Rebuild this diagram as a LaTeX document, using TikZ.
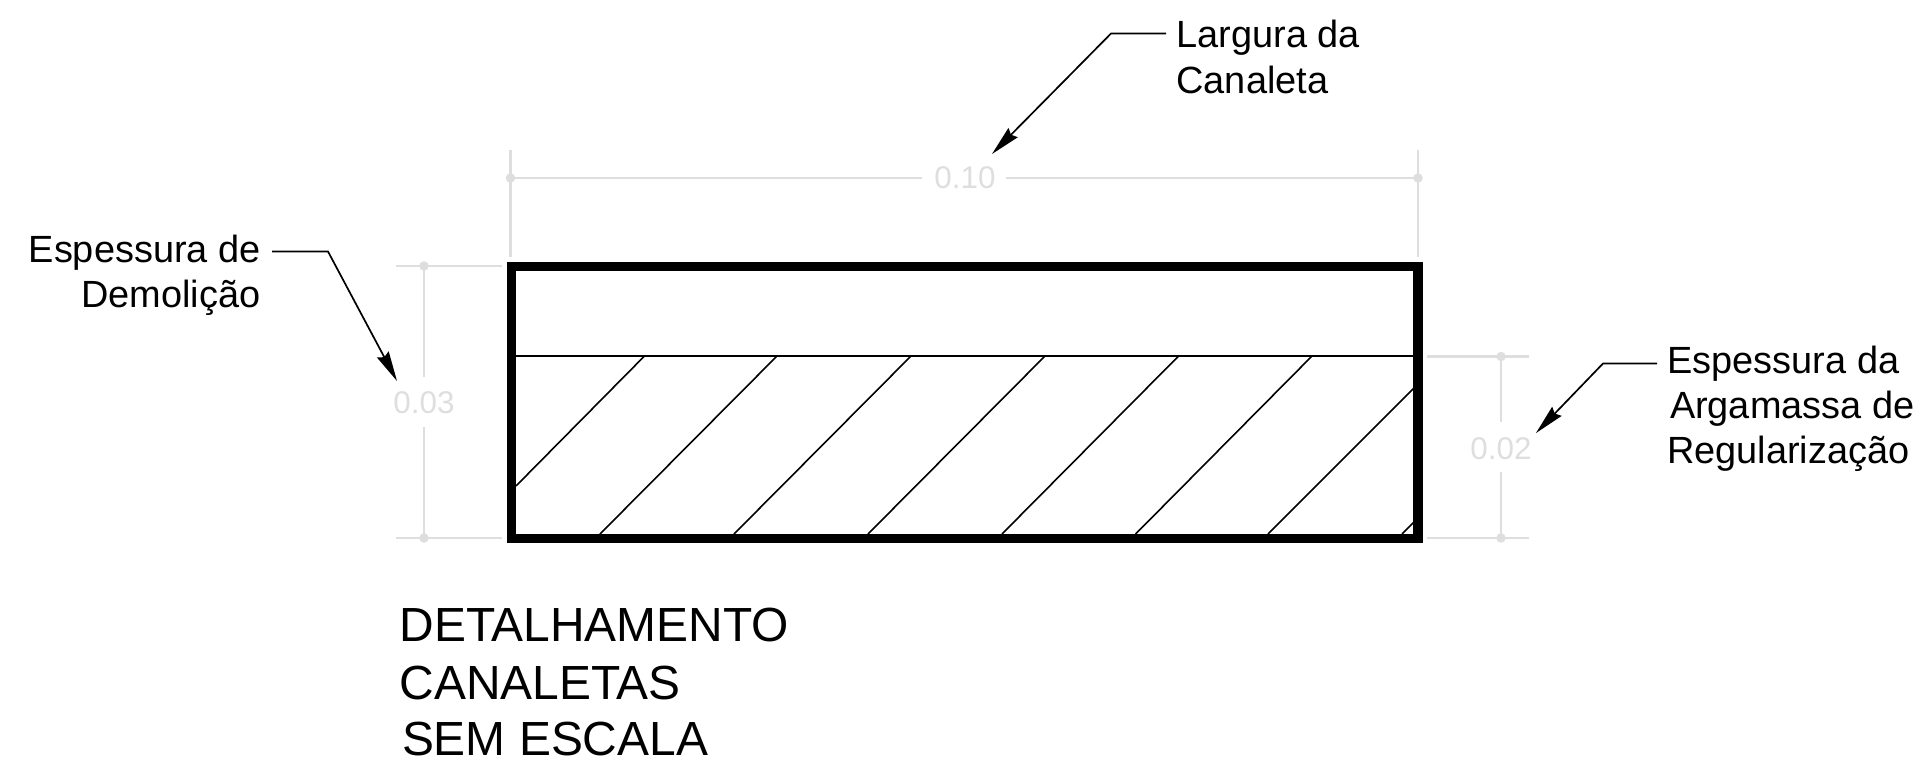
\documentclass[tikz,border=0pt]{standalone}
\usepackage{fontspec}
\setmainfont{Liberation Sans}
\usetikzlibrary{arrows.meta}
\definecolor{dimgray}{HTML}{DEDEDE}
\tikzset{
  lbl/.style={inner sep=0pt,outer sep=0pt,text=black,font=\fontsize{37.9}{46}\selectfont},
  ttl/.style={inner sep=0pt,outer sep=0pt,text=black,font=\fontsize{47.9}{58}\selectfont},
  dimtxt/.style={inner sep=0pt,outer sep=0pt,text=dimgray,font=\fontsize{31.4}{36}\selectfont},
  dimln/.style={draw=dimgray,line width=2.2pt},
  dimdot/.style={circle,fill=dimgray,draw=none,minimum size=9.5pt,inner sep=0pt,outer sep=0pt},
  thin line/.style={draw=black,line width=1.6pt},
  frame/.style={draw=black,line width=9.6pt,miter limit=10},
  leader/.style={draw=black,line width=1.7pt,-{Stealth[length=30pt,width=13pt,inset=3pt]}},
}
\begin{document}
\begin{tikzpicture}[x=1pt,y=-1pt]
\useasboundingbox (0,0) rectangle (1925,766);
% hatch
\draw[thin line] (516,356) -- (1414,356);
\foreach \xa/\ya/\xb/\yb in {644.5/356/516/486, 777/356/600/534, 911/356/734/534, 1045/356/868/534, 1178.6/356/1002/534, 1312/356/1135.6/534, 1414/388/1268/534, 1414/522/1402/534}
  \draw[thin line] (\xa,\ya) -- (\xb,\yb);
\draw[frame] (511.5,266.5) rectangle (1418,538.5);
% top dimension
\coordinate (te1a) at (510.5,150); \coordinate (te1b) at (510.5,257);
\coordinate (te2a) at (1418,150);  \coordinate (te2b) at (1418,257);
\node[dimdot] (td1) at (510.5,178) {};
\node[dimdot] (td2) at (1418,178) {};
\node[dimtxt] (tt) at (965,178) {0.10};
\coordinate (tg1) at (921.5,178); \coordinate (tg2) at (1006,178);
\draw[dimln] (te1a) -- (te1b);
\draw[dimln] (te2a) -- (te2b);
\draw[dimln] (td1.center) -- (tg1);
\draw[dimln] (tg2) -- (td2.center);
% left dimension
\coordinate (le1a) at (396,266); \coordinate (le1b) at (502,266);
\coordinate (le2a) at (396,538); \coordinate (le2b) at (502,538);
\node[dimdot] (ld1) at (424,266) {};
\node[dimdot] (ld2) at (424,538) {};
\node[dimtxt] (lt) at (424,403) {0.03};
\coordinate (lg1) at (424,377); \coordinate (lg2) at (424,427);
\draw[dimln] (le1a) -- (le1b);
\draw[dimln] (le2a) -- (le2b);
\draw[dimln] (ld1.center) -- (lg1);
\draw[dimln] (lg2) -- (ld2.center);
% right dimension
\coordinate (re1a) at (1427,356.5); \coordinate (re1b) at (1529,356.5);
\coordinate (re2a) at (1427,538); \coordinate (re2b) at (1529,538);
\node[dimdot] (rd1) at (1501,356.5) {};
\node[dimdot] (rd2) at (1501,538) {};
\node[dimtxt] (rt) at (1501,449) {0.02};
\coordinate (rg1) at (1501,422); \coordinate (rg2) at (1501,472);
\draw[dimln] (re1a) -- (re1b);
\draw[dimln] (re2a) -- (re2b);
\draw[dimln] (rd1.center) -- (rg1);
\draw[dimln] (rg2) -- (rd2.center);
% labels
\node[lbl,anchor=base west] (la1) at (1176.5,47) {Largura da};
\node[lbl,anchor=base west] (la2) at (1176.5,93) {Canaleta};
\node[lbl,anchor=base east] (le1) at (260.5,262) {Espessura de};
\node[lbl,anchor=base east] (le2) at (260.5,307) {Demolição};
\node[lbl,anchor=base west] (ra1) at (1667.5,373) {Espessura da};
\node[lbl,anchor=base west] (ra2) at (1670,418) {Argamassa de};
\node[lbl,anchor=base west] (ra3) at (1667,463) {Regularização};
% leaders
\coordinate (l1s) at (1166,33.5); \coordinate (l1b) at (1111,33.5); \coordinate (l1t) at (992,154);
\coordinate (l2s) at (272,251.5); \coordinate (l2b) at (328,251.5); \coordinate (l2t) at (397,381);
\coordinate (l3s) at (1657,363.5); \coordinate (l3b) at (1603,363.5); \coordinate (l3t) at (1536,433);
\draw[leader] (l1s) -- (l1b) -- (l1t);
\draw[leader] (l2s) -- (l2b) -- (l2t);
\draw[leader] (l3s) -- (l3b) -- (l3t);
% title
\node[ttl,anchor=base west] (t1) at (399.5,641.5) {DETALHAMENTO};
\node[ttl,anchor=base west] (t2) at (399.5,699) {CANALETAS};
\node[ttl,anchor=base west] (t3) at (402,755.5) {SEM ESCALA};
\end{tikzpicture}
\end{document}
